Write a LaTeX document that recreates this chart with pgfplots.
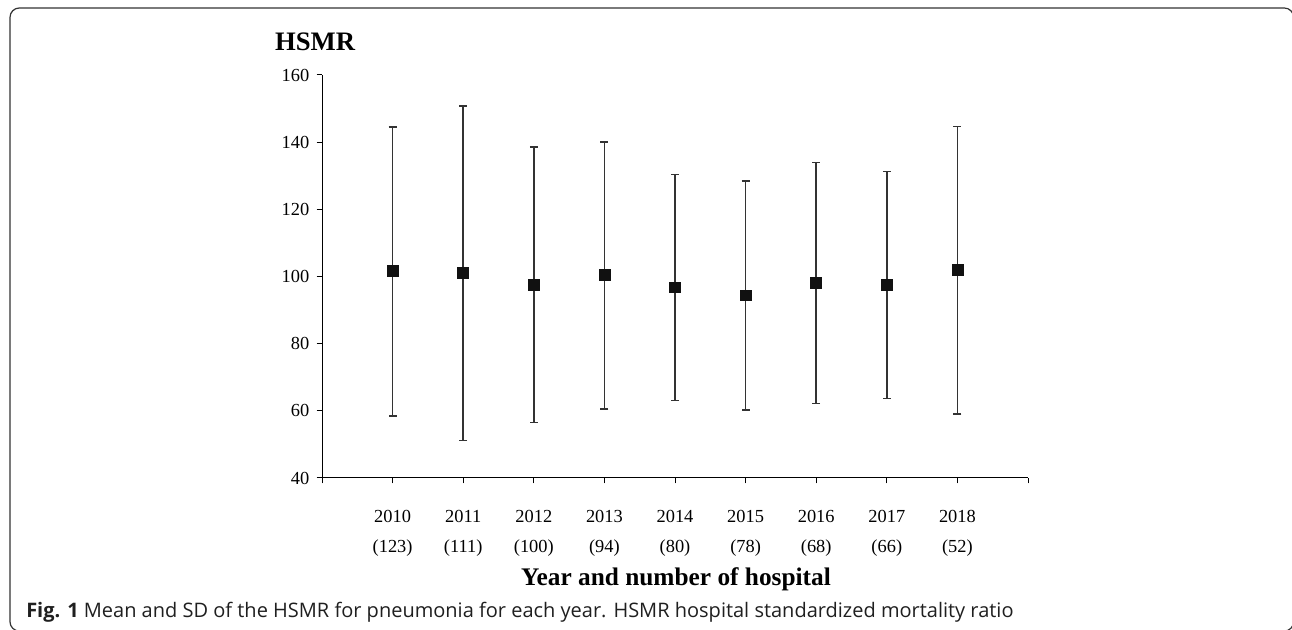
\documentclass[border=0pt]{standalone}
\usepackage{fontspec}
\setmainfont{Liberation Serif}
\newfontfamily\capfont{Open Sans}
\usepackage{pgfplots}
\pgfplotsset{compat=1.18}
\definecolor{mk}{HTML}{111111}
\definecolor{eb}{HTML}{333333}
\definecolor{frame}{HTML}{333333}
\begin{document}
\begin{tikzpicture}
\useasboundingbox (0,0) rectangle (969pt,472.5pt);
% panel frame, cut by the page on the right and at the bottom
\draw[line width=0.9pt, color=frame, rounded corners=7pt] (7.5pt,-0.8pt) rectangle (970.2pt,466.5pt);
\begin{axis}[
    at={(241.5pt,114pt)}, anchor=south west,
    scale only axis, width=529.5pt, height=302.25pt,
    xmin=0, xmax=10, ymin=40, ymax=160,
    axis lines*=left,
    axis line style={line width=0.75pt, black},
    tick align=outside,
    major tick length=4pt,
    tick style={line width=0.75pt, black},
    xtick={0,1,2,3,4,5,6,7,8,9,10},
    xticklabels={{},{2010\\(123)},{2011\\(111)},{2012\\(100)},{2013\\(94)},{2014\\(80)},{2015\\(78)},{2016\\(68)},{2017\\(66)},{2018\\(52)},{}},
    xticklabel style={align=center, font=\fontsize{13.8}{22.5}\selectfont, yshift=-16.5pt},
    ytick={40,60,80,100,120,140,160},
    yticklabel style={font=\fontsize{13.8}{16}\selectfont, xshift=-2pt},
    /pgf/number format/assume math mode=true,
    clip=false,
]
\addplot[only marks, mark=square*, mark size=4.1pt, color=mk,
    error bars/.cd, y dir=both, y explicit,
    error mark=-, error mark options={line width=1.1pt, color=eb, mark size=3pt, rotate=90},
    error bar style={line width=1.1pt, color=eb}]
coordinates {
    (1,101.6) += (0,42.9) -= (0,43.1)
    (2,101.0) += (0,49.7) -= (0,49.9)
    (3,97.5)  += (0,41.1) -= (0,41.0)
    (4,100.4) += (0,39.7) -= (0,39.8)
    (5,96.8)  += (0,33.5) -= (0,33.8)
    (6,94.4)  += (0,34.1) -= (0,34.2)
    (7,98.1)  += (0,35.8) -= (0,35.9)
    (8,97.5)  += (0,33.7) -= (0,33.9)
    (9,101.9) += (0,42.8) -= (0,42.9)
};
\end{axis}
\node[font=\fontsize{20}{24}\selectfont\bfseries] at (236.25pt,441pt) {HSMR};
\node[font=\fontsize{19}{23}\selectfont\bfseries] at (507pt,38pt) {Year and number of hospital};
\node[anchor=base west, font=\capfont\fontsize{15}{18}\selectfont, color=black!88, inner sep=0pt] at (19.5pt,9.5pt) {\textbf{Fig. 1} Mean and SD of the HSMR for pneumonia for each year. HSMR hospital standardized mortality ratio};
\end{tikzpicture}
\end{document}
